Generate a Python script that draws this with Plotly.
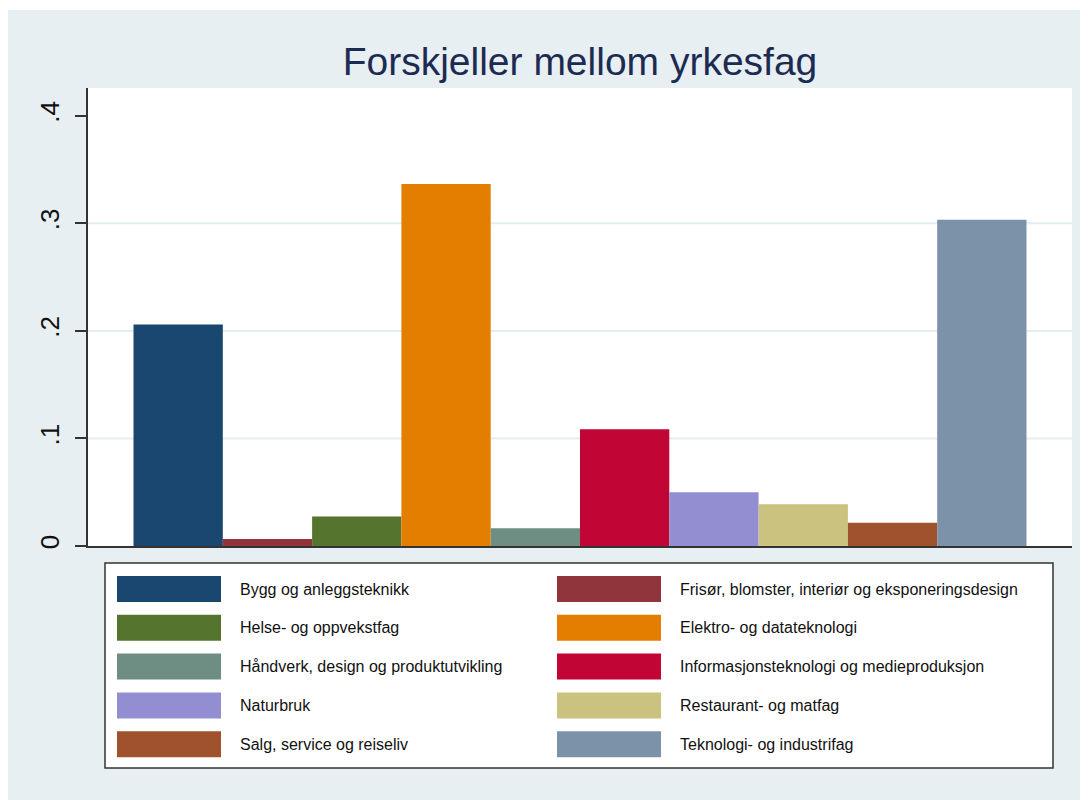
import plotly.graph_objects as go

categories = [
    "Bygg og anleggsteknikk",
    "Frisør, blomster, interiør og eksponeringsdesign",
    "Helse- og oppvekstfag",
    "Elektro- og datateknologi",
    "Håndverk, design og produktutvikling",
    "Informasjonsteknologi og medieproduksjon",
    "Naturbruk",
    "Restaurant- og matfag",
    "Salg, service og reiseliv",
    "Teknologi- og industrifag",
]
values = [0.206, 0.0065, 0.0275, 0.3365, 0.0165, 0.1085, 0.050, 0.0388, 0.0217, 0.3033]
colors = ["#1a476f", "#90353b", "#55752f", "#e37e00", "#6e8e84",
          "#c10534", "#938dd2", "#cac27e", "#a0522d", "#7b92a8"]
tick_vals = [0, 0.1, 0.2, 0.3, 0.4]
tick_text = ["0", ".1", ".2", ".3", ".4"]
grid_vals = [0.1, 0.2, 0.3]
title_text = "Forskjeller mellom yrkesfag"

W, H = 1080, 792
ML, MR, MT, MB = 80, 16, 80, 254
PW, PH = W - ML - MR, H - MT - MB
BG = "#e8eff2"
FONT = "Liberation Sans, Arial, sans-serif"


def px(x):
    return (x - ML) / PW


def py(y):
    return 1 - (y - MT) / PH


fig = go.Figure()
for name, v, c in zip(categories, values, colors):
    fig.add_trace(go.Bar(x=[0], y=[v], name=name, marker=dict(color=c, line=dict(width=0)),
                         showlegend=False))

shapes = []
for g in grid_vals:
    shapes.append(dict(type="line", xref="paper", yref="y", x0=0, x1=1, y0=g, y1=g,
                       line=dict(color="#e4edf1", width=2), layer="below"))

# thin white strip at the very top, as in the reference
shapes.append(dict(type="rect", xref="paper", yref="paper", x0=px(0), x1=px(W),
                   y0=py(2), y1=py(0), fillcolor="white", line=dict(width=0)))

# legend box (figure pixel coordinates)
LX0, LX1, LY0, LY1 = 97, 1045, 555, 760
shapes.append(dict(type="rect", xref="paper", yref="paper", x0=px(LX0), x1=px(LX1),
                   y0=py(LY1), y1=py(LY0), fillcolor="white",
                   line=dict(color="#333333", width=1.5)))
annotations = []
col_x = [109, 549]
row_h = 38.8
first_center = 581
sw_w, sw_h = 104, 26
for i, (name, c) in enumerate(zip(categories, colors)):
    col, row = i % 2, i // 2
    cx = col_x[col]
    cy = first_center + row * row_h
    shapes.append(dict(type="rect", xref="paper", yref="paper", x0=px(cx), x1=px(cx + sw_w),
                       y0=py(cy + sw_h / 2), y1=py(cy - sw_h / 2), fillcolor=c,
                       line=dict(width=0)))
    annotations.append(dict(xref="paper", yref="paper", x=px(cx + sw_w + 17), y=py(cy),
                            text=name, showarrow=False, xanchor="left", yanchor="middle",
                            font=dict(family=FONT, size=16, color="#111111")))

fig.update_layout(
    width=W, height=H,
    margin=dict(l=ML, r=MR, t=MT, b=MB, pad=0),
    paper_bgcolor=BG, plot_bgcolor="white",
    barmode="group", bargap=0.0925, bargroupgap=0,
    title=dict(text=title_text, x=0.5, xref="paper", xanchor="center",
               y=1 - 53 / H, yref="container", yanchor="middle",
               font=dict(family=FONT, size=39, color="#1c2b52")),
    xaxis=dict(range=[-0.5, 0.5], showticklabels=False, ticks="", showgrid=False,
               zeroline=False, showline=True, linecolor="#333333", linewidth=1.5, fixedrange=True),
    yaxis=dict(range=[0, 0.4258], tickvals=tick_vals, ticktext=tick_text, tickangle=-90,
               ticks="outside", ticklen=11, tickwidth=1.5, tickcolor="#333333",
               showline=True, linecolor="#333333", linewidth=1.5, showgrid=False,
               zeroline=False, ticklabelstandoff=6,
               tickfont=dict(family=FONT, size=26, color="#111111")),
    shapes=shapes, annotations=annotations,
)
fig.write_html("out.html")
